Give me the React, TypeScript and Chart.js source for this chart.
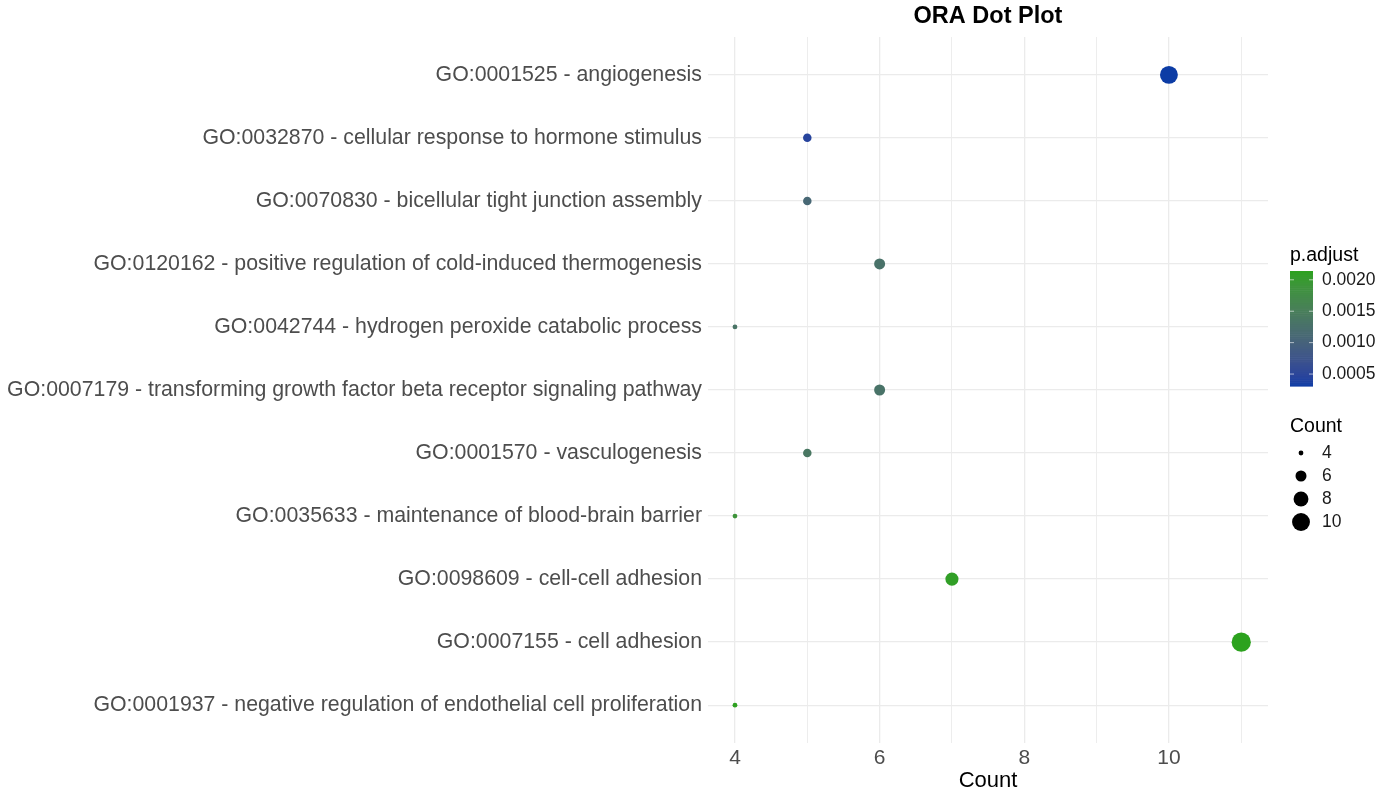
import React, { useEffect, useRef } from "react";
import { Chart, registerables } from "chart.js";

Chart.register(...registerables);

const terms: string[] = [
  "GO:0001525 - angiogenesis",
  "GO:0032870 - cellular response to hormone stimulus",
  "GO:0070830 - bicellular tight junction assembly",
  "GO:0120162 - positive regulation of cold-induced thermogenesis",
  "GO:0042744 - hydrogen peroxide catabolic process",
  "GO:0007179 - transforming growth factor beta receptor signaling pathway",
  "GO:0001570 - vasculogenesis",
  "GO:0035633 - maintenance of blood-brain barrier",
  "GO:0098609 - cell-cell adhesion",
  "GO:0007155 - cell adhesion",
  "GO:0001937 - negative regulation of endothelial cell proliferation",
];
const counts: number[] = [10, 5, 5, 6, 4, 6, 5, 4, 7, 11, 4];
const pAdjust: number[] = [
  0.00031, 0.00045, 0.0011, 0.00128, 0.00132, 0.0013, 0.00138, 0.0019, 0.00208, 0.00214, 0.00212,
];
const xTickValues: number[] = [4, 5, 6, 7, 8, 9, 10, 11];
const xLabelValues: number[] = [4, 6, 8, 10];
const colorTicks: number[] = [0.0005, 0.001, 0.0015, 0.002];
const sizeLegend: number[] = [4, 6, 8, 10];

const LOW = "#0C3CA5";
const HIGH = "#2CA21E";
const FONT = "'Liberation Sans', Arial, sans-serif";

function hexToRgb(h: string): number[] {
  return [1, 3, 5].map((i) => parseInt(h.slice(i, i + 2), 16));
}
function toLin(c: number) {
  c /= 255;
  return c <= 0.04045 ? c / 12.92 : Math.pow((c + 0.055) / 1.055, 2.4);
}
function fromLin(c: number) {
  const v = c <= 0.0031308 ? 12.92 * c : 1.055 * Math.pow(c, 1 / 2.4) - 0.055;
  return Math.max(0, Math.min(255, Math.round(v * 255)));
}
function rgbToLab(rgb: number[]): number[] {
  const [r, g, b] = rgb.map(toLin);
  const x = (r * 0.4124 + g * 0.3576 + b * 0.1805) / 0.95047;
  const y = r * 0.2126 + g * 0.7152 + b * 0.0722;
  const z = (r * 0.0193 + g * 0.1192 + b * 0.9505) / 1.08883;
  const f = (t: number) => (t > 0.008856 ? Math.cbrt(t) : 7.787 * t + 16 / 116);
  const fx = f(x), fy = f(y), fz = f(z);
  return [116 * fy - 16, 500 * (fx - fy), 200 * (fy - fz)];
}
function labToRgb(lab: number[]): number[] {
  const fy = (lab[0] + 16) / 116;
  const fx = fy + lab[1] / 500;
  const fz = fy - lab[2] / 200;
  const finv = (t: number) => (t * t * t > 0.008856 ? t * t * t : (t - 16 / 116) / 7.787);
  const x = finv(fx) * 0.95047, y = finv(fy), z = finv(fz) * 1.08883;
  const r = x * 3.2406 + y * -1.5372 + z * -0.4986;
  const g = x * -0.9689 + y * 1.8758 + z * 0.0415;
  const b = x * 0.0557 + y * -0.204 + z * 1.057;
  return [fromLin(r), fromLin(g), fromLin(b)];
}
const lowLab = rgbToLab(hexToRgb(LOW));
const highLab = rgbToLab(hexToRgb(HIGH));
const pMin = Math.min(...pAdjust);
const pMax = Math.max(...pAdjust);
function colorFor(p: number): string {
  const t = Math.max(0, Math.min(1, (p - pMin) / (pMax - pMin)));
  const lab = lowLab.map((v, i) => v + (highLab[i] - v) * t);
  const [r, g, b] = labToRgb(lab);
  return `rgb(${r},${g},${b})`;
}
const cMin = Math.min(...counts);
const cMax = Math.max(...counts);
const R_MIN = 2.4;
const R_MAX = 9.6;
function radiusFor(c: number): number {
  const t = (c - cMin) / (cMax - cMin);
  return Math.sqrt(R_MIN * R_MIN + t * (R_MAX * R_MAX - R_MIN * R_MIN));
}

const legendPlugin = {
  id: "customLegend",
  afterDraw(chart: any) {
    const ctx = chart.ctx as CanvasRenderingContext2D;
    const area = chart.chartArea;
    ctx.save();
    // title
    ctx.fillStyle = "#000";
    ctx.font = `bold 23.5px ${FONT}`;
    ctx.textAlign = "center";
    ctx.textBaseline = "middle";
    ctx.fillText("ORA Dot Plot", (area.left + area.right) / 2, 17);

    // colorbar
    const lx = 1290;
    ctx.textAlign = "left";
    ctx.font = `19.5px ${FONT}`;
    ctx.fillText("p.adjust", lx, 256);
    const barTop = 271, barBot = 386, barW = 23;
    const steps = 60;
    for (let i = 0; i < steps; i++) {
      const p = pMax - ((pMax - pMin) * (i + 0.5)) / steps;
      ctx.fillStyle = colorFor(p);
      const y0 = barTop + ((barBot - barTop) * i) / steps;
      ctx.fillRect(lx, y0, barW, (barBot - barTop) / steps + 0.6);
    }
    ctx.font = `17.5px ${FONT}`;
    ctx.textBaseline = "middle";
    colorTicks.forEach((v) => {
      const y = barBot - ((v - pMin) / (pMax - pMin)) * (barBot - barTop);
      ctx.strokeStyle = "rgba(255,255,255,0.6)";
      ctx.lineWidth = 1;
      ctx.beginPath();
      ctx.moveTo(lx, y);
      ctx.lineTo(lx + 4, y);
      ctx.moveTo(lx + barW - 4, y);
      ctx.lineTo(lx + barW, y);
      ctx.stroke();
      ctx.fillStyle = "#1a1a1a";
      ctx.fillText(v.toFixed(4), lx + 32, y);
    });

    // size legend
    ctx.fillStyle = "#000";
    ctx.font = `19.5px ${FONT}`;
    ctx.fillText("Count", lx, 427);
    ctx.font = `17.5px ${FONT}`;
    sizeLegend.forEach((c, i) => {
      const y = 453 + i * 23;
      ctx.fillStyle = "#000";
      ctx.beginPath();
      ctx.arc(lx + 11, y, radiusFor(c), 0, Math.PI * 2);
      ctx.fill();
      ctx.fillStyle = "#1a1a1a";
      ctx.fillText(String(c), lx + 32, y);
    });
    ctx.restore();
  },
};

export default function App() {
  const ref = useRef<HTMLCanvasElement>(null);
  useEffect(() => {
    document.body.style.margin = "0";
    const data = counts.map((c, i) => ({ x: c, y: i }));
    const chart = new Chart(ref.current!, {
      type: "scatter",
      data: {
        datasets: [
          {
            data,
            pointRadius: counts.map(radiusFor),
            pointHoverRadius: counts.map(radiusFor),
            pointBackgroundColor: pAdjust.map(colorFor),
            pointBorderWidth: 0,
            borderWidth: 0,
          },
        ],
      },
      options: {
        animation: false,
        responsive: false,
        layout: { padding: { top: 37, right: 124, left: 0, bottom: 0 } },
        plugins: { legend: { display: false }, tooltip: { enabled: false }, title: { display: false } },
        scales: {
          x: {
            type: "linear",
            min: 3.627,
            max: 11.37,
            border: { display: false },
            afterBuildTicks: (s: any) => {
              s.ticks = xTickValues.map((v) => ({ value: v }));
            },
            afterFit: (s: any) => {
              s.height = 56;
            },
            grid: {
              color: "#ebebeb",
              lineWidth: (c: any) => (c.tick && xLabelValues.includes(c.tick.value) ? 1.3 : 0.9),
              drawTicks: false,
            },
            ticks: {
              autoSkip: false,
              maxRotation: 0,
              padding: 3,
              color: "#4d4d4d",
              font: { family: FONT, size: 21 },
              callback: (v: any) => (xLabelValues.includes(Number(v)) ? String(v) : ""),
            },
            title: {
              display: true,
              text: "Count",
              color: "#000",
              font: { family: FONT, size: 22 },
              padding: { top: 0, bottom: 5 },
            },
          },
          y: {
            type: "linear",
            min: -0.6,
            max: 10.6,
            reverse: true,
            border: { display: false },
            afterBuildTicks: (s: any) => {
              s.ticks = terms.map((_, i) => ({ value: i }));
            },
            afterFit: (s: any) => {
              s.width = 708;
            },
            grid: { color: "#ebebeb", lineWidth: 1.3, drawTicks: false },
            ticks: {
              autoSkip: false,
              padding: 6,
              color: "#4d4d4d",
              font: { family: FONT, size: 21.3 },
              callback: (v: any) => terms[Number(v)] ?? "",
            },
          },
        },
      },
      plugins: [legendPlugin],
    });
    return () => chart.destroy();
  }, []);
  return (
    <div style={{ width: 1392, height: 799 }}>
      <canvas ref={ref} width={1392} height={799} style={{ display: "block" }} />
    </div>
  );
}
